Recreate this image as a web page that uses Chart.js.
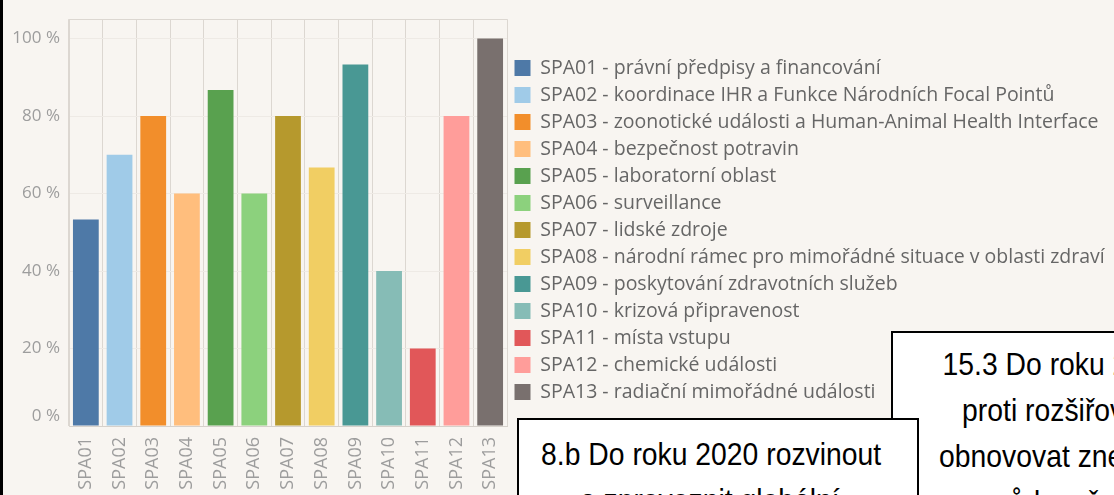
<!DOCTYPE html>
<html lang="cs">
<head>
<meta charset="utf-8">
<title>SPA</title>
<script src="https://cdn.jsdelivr.net/npm/chart.js@4.4.1/dist/chart.umd.min.js"></script>
<style>
  html, body { margin: 0; padding: 0; background: #f8f5f1; overflow: hidden; }
  #wrap { position: relative; width: 1114px; height: 495px; overflow: hidden; background: #f8f5f1; }
  #graf { position: absolute; left: 0; top: 0; }
  .hrana { position: absolute; left: 0; top: 0; width: 3px; height: 495px; background: #000; }
  .box {
    position: absolute; background: #fff; border: 2px solid #000; box-sizing: border-box;
    font-family: "Liberation Sans", Arial, sans-serif;
    font-size: 32px; line-height: 46px; color: #000; text-align: center; white-space: nowrap;
  }
  .box span { display: inline-block; transform: scaleX(0.885); transform-origin: 50% 50%; }
  #box2 { left: 891px; top: 331px; width: 436px; height: 220px; padding-top: 8px; }
  #box1 { left: 517px; top: 418px; width: 402px; height: 200px; padding-top: 11px; padding-right: 16px; }
</style>
</head>
<body>
<div id="wrap">
  <canvas id="graf" width="1114" height="495"></canvas>
  <div class="hrana"></div>
  <div class="box" id="box2">
    <div><span>15.3 Do roku 2030 bojovat</span></div>
    <div><span>proti rozšiřování pouští,</span></div>
    <div><span>obnovovat znehodnocenou</span></div>
    <div><span>půdu, včetně půdy</span></div>
  </div>
  <div class="box" id="box1">
    <div><span>8.b Do roku 2020 rozvinout</span></div>
    <div><span>a zprovoznit globální</span></div>
  </div>
</div>
<script>
// kategorie a hodnoty (podíl splnění v %)
const kategorie = ["SPA01", "SPA02", "SPA03", "SPA04", "SPA05", "SPA06", "SPA07",
                   "SPA08", "SPA09", "SPA10", "SPA11", "SPA12", "SPA13"];
const hodnoty = [53.3, 70, 80, 60, 86.7, 60, 80, 66.7, 93.3, 40, 20, 80, 100];
const barvy = ["#4e79a7", "#a0cbe8", "#f28e2b", "#ffbe7d", "#59a14f", "#8cd17d", "#b6992d",
               "#f1ce63", "#499894", "#86bcb6", "#e15759", "#ff9d9a", "#79706e"];
const popisky = [
  "SPA01 - právní předpisy a financování",
  "SPA02 - koordinace IHR a Funkce Národních Focal Pointů",
  "SPA03 - zoonotické události a Human-Animal Health Interface",
  "SPA04 - bezpečnost potravin",
  "SPA05 - laboratorní oblast",
  "SPA06 - surveillance",
  "SPA07 - lidské zdroje",
  "SPA08 - národní rámec pro mimořádné situace v oblasti zdraví",
  "SPA09 - poskytování zdravotních služeb",
  "SPA10 - krizová připravenost",
  "SPA11 - místa vstupu",
  "SPA12 - chemické události",
  "SPA13 - radiační mimořádné události"
];
const osaY = [0, 20, 40, 60, 80, 100];
const osaYMax = 105;

document.addEventListener("DOMContentLoaded", function () {
  const pismo = "'Open Sans', sans-serif";
  Chart.defaults.font.family = pismo;

  // legenda ma sahat od x=507 az k pravemu okraji
  const velLegendy = 19.5, mezera = 7.5;
  const mer = document.createElement("canvas").getContext("2d");
  mer.font = velLegendy + "px 'Open Sans'";
  const nejdelsi = Math.max(...popisky.map(t => mer.measureText(t).width));
  const sirkaLegendy = mezera + 16 + velLegendy / 2 + nejdelsi + 10;
  const pravyOkraj = Math.max(0, 607 - sirkaLegendy);

  new Chart(document.getElementById("graf"), {
    type: "bar",
    data: {
      labels: kategorie,
      datasets: [{
        data: hodnoty,
        backgroundColor: barvy,
        borderWidth: 0,
        barPercentage: 0.85,
        categoryPercentage: 0.9
      }]
    },
    options: {
      responsive: false,
      animation: false,
      devicePixelRatio: 1,
      layout: { padding: { top: 12, right: pravyOkraj, left: 0, bottom: 0 } },
      plugins: {
        tooltip: { enabled: false },
        legend: {
          position: "right",
          align: "start",
          fullSize: true,
          maxWidth: 607,
          title: { display: true, text: "", padding: { top: 26.75, bottom: 0 }, font: { size: 10 } },
          labels: {
            boxWidth: 16,
            boxHeight: 16,
            padding: mezera,
            color: "#6b6b6b",
            font: { family: pismo, size: velLegendy },
            generateLabels: () => popisky.map((t, i) => ({
              text: t, fillStyle: barvy[i], strokeStyle: barvy[i], lineWidth: 0, hidden: false, index: i
            }))
          }
        }
      },
      scales: {
        x: {
          grid: { color: "#dcd7d1", drawTicks: false, offset: true },
          border: { color: "#d6d1cb" },
          ticks: {
            color: "#9d9d9d", font: { family: pismo, size: 18 },
            minRotation: 90, maxRotation: 90, padding: 11, autoSkip: false
          },
          afterFit: s => { s.height = 69; }
        },
        y: {
          min: 0,
          max: osaYMax,
          grid: {
            drawTicks: false,
            color: c => (c.tick && c.tick.value === osaYMax) ? "#dcd7d1" : "#eeeae5"
          },
          border: { color: "#dcd7d1" },
          ticks: {
            color: "#9d9d9d", font: { family: pismo, size: 17 }, padding: 9, autoSkip: false,
            callback: v => v === osaYMax ? "" : (v === 0 ? ["0 %", ""] : v + " %")
          },
          afterBuildTicks: s => { s.ticks = osaY.concat([osaYMax]).map(v => ({ value: v })); },
          afterFit: s => { s.width = 69; }
        }
      }
    }
  });
});
</script>
</body>
</html>
